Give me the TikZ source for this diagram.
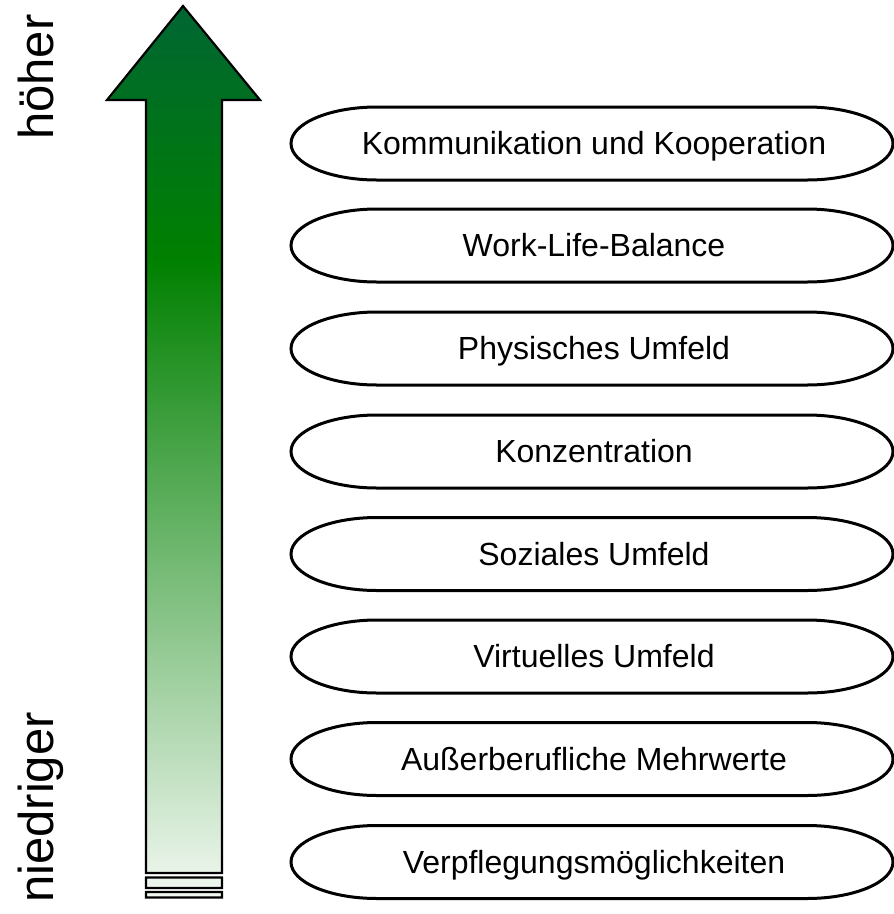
\documentclass[tikz,border=0pt]{standalone}
\usepackage{fontspec}
\setmainfont{Liberation Sans}
\definecolor{topc}{RGB}{0,102,51}
\definecolor{midc}{RGB}{0,128,0}
\definecolor{botc}{RGB}{242,248,242}
\pgfdeclareverticalshading{arrowshade}{100bp}{color(0bp)=(botc); color(25bp)=(botc); color(60.8bp)=(midc); color(75bp)=(topc); color(100bp)=(topc)}
\begin{document}
\begin{tikzpicture}[x=1pt,y=-1pt,
  item/.style={font=\fontsize{32}{38}\selectfont, text height=22.9pt, text depth=0pt, inner sep=0pt},
  sidelabel/.style={font=\fontsize{49}{58}\selectfont, rotate=90, anchor=base west, inner sep=0pt},
  outline/.style={draw=black, line width=3pt, fill=white}
]
\useasboundingbox (0,0) rectangle (894,914);
% arrow
\shadedraw[shading=arrowshade, draw=black, line width=2.2pt, line join=miter]
  (183,6) -- (260,100) -- (222,100) -- (222,873) -- (146,873) -- (146,100) -- (107,100) -- cycle
  (146,877.5) rectangle (222,888)
  (146,892) rectangle (222,897.5);
% side labels
\node[sidelabel] (hi) at (53,140) {höher};
\node[sidelabel] (lo) at (53,903) {niedriger};
% items
\foreach \n/\cy/\t in {
  1/143.5/Kommunikation und Kooperation,
  2/245.5/Work-Life-Balance,
  3/348.5/Physisches Umfeld,
  4/451.5/Konzentration,
  5/554/Soziales Umfeld,
  6/656.5/Virtuelles Umfeld,
  7/759/Außerberufliche Mehrwerte,
  8/862/Verpflegungsmöglichkeiten}{
  \draw[outline] (291,\cy) arc[start angle=180, end angle=90, x radius=86pt, y radius=36.5pt]
    -- ++(430pt,0pt) arc[start angle=90, end angle=-90, x radius=86pt, y radius=36.5pt]
    -- ++(-430pt,0pt) arc[start angle=-90, end angle=-180, x radius=86pt, y radius=36.5pt] -- cycle;
  \node[item] (e\n) at (594,\cy) {\t};
}
\end{tikzpicture}
\end{document}
